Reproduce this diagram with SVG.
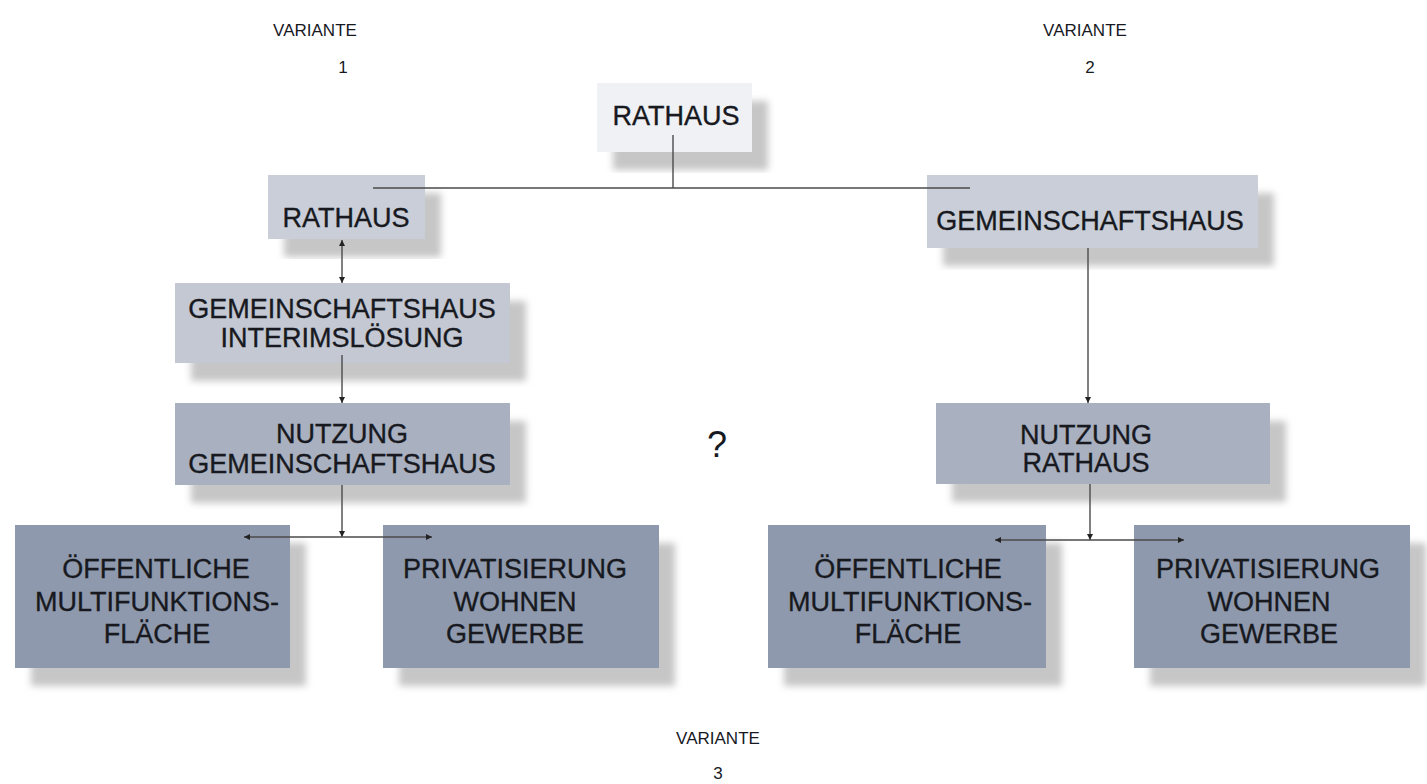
<svg xmlns="http://www.w3.org/2000/svg" width="1427" height="784" viewBox="0 0 1427 784">
<defs>
<style>
text{font-family:"Liberation Sans",Arial,sans-serif;fill:#17191f;text-anchor:middle}
.t{font-size:27px;stroke:#17191f;stroke-width:0.35}
.v{font-size:17px}
.q{font-size:36px}
.c{stroke:#4a4a4a;stroke-width:1.4;fill:none}
.l1{fill:#eff1f4}
.l2{fill:#c9ced8}
.l3{fill:#c3c8d3}
.l4{fill:#a9b0c0}
.l5{fill:#8f99ad}
</style>
<filter id="sh" x="-10%" y="-10%" width="130%" height="140%">
<feFlood flood-color="#c6c6c6" result="f"/>
<feComposite in="f" in2="SourceAlpha" operator="in" result="s"/>
<feOffset in="s" dx="16" dy="18" result="o"/>
<feGaussianBlur in="o" stdDeviation="3.5" result="b"/>
<feMerge><feMergeNode in="b"/><feMergeNode in="SourceGraphic"/></feMerge>
</filter>
<marker id="ah" viewBox="0 0 10 10" refX="10" refY="5" markerWidth="9" markerHeight="6" orient="auto-start-reverse" markerUnits="userSpaceOnUse">
<path d="M0,0 L10,5 L0,10 Z" fill="#222"/>
</marker>
</defs>

<g id="labels">
<text class="v" x="315" y="36">VARIANTE</text>
<text class="v" x="343" y="73">1</text>
<text class="v" x="1085" y="36">VARIANTE</text>
<text class="v" x="1090" y="73">2</text>
<text class="q" x="717" y="457">?</text>
<text class="v" x="718" y="744">VARIANTE</text>
<text class="v" x="718" y="779">3</text>
</g>

<g id="node-rathaus-top">
<rect class="l1" x="597" y="83" width="155" height="69" filter="url(#sh)"/>
<text class="t" x="676" y="125">RATHAUS</text>
</g>

<g id="node-rathaus-v1">
<rect class="l2" x="268" y="175" width="157" height="64" filter="url(#sh)"/>
<text class="t" x="346" y="227">RATHAUS</text>
</g>

<g id="node-gemeinschaftshaus-v2">
<rect class="l2" x="927" y="175" width="331" height="73" filter="url(#sh)"/>
<text class="t" x="1090" y="230">GEMEINSCHAFTSHAUS</text>
</g>

<g id="node-interim">
<rect class="l3" x="175" y="283" width="335" height="80" filter="url(#sh)"/>
<text class="t" x="342" y="318">GEMEINSCHAFTSHAUS</text>
<text class="t" x="342" y="347">INTERIMSLÖSUNG</text>
</g>

<g id="node-nutzung-gh">
<rect class="l4" x="175" y="403" width="335" height="82" filter="url(#sh)"/>
<text class="t" x="342" y="443">NUTZUNG</text>
<text class="t" x="342" y="473">GEMEINSCHAFTSHAUS</text>
</g>

<g id="node-nutzung-rh">
<rect class="l4" x="936" y="403" width="334" height="81" filter="url(#sh)"/>
<text class="t" x="1086" y="444">NUTZUNG</text>
<text class="t" x="1086" y="472">RATHAUS</text>
</g>

<g id="node-oeff-v1">
<rect class="l5" x="15" y="525" width="275" height="143" filter="url(#sh)"/>
<text class="t" x="156" y="578">ÖFFENTLICHE</text>
<text class="t" x="157" y="611">MULTIFUNKTIONS-</text>
<text class="t" x="157" y="643">FLÄCHE</text>
</g>

<g id="node-priv-v1">
<rect class="l5" x="383" y="525" width="276" height="143" filter="url(#sh)"/>
<text class="t" x="515" y="578">PRIVATISIERUNG</text>
<text class="t" x="515" y="611">WOHNEN</text>
<text class="t" x="515" y="643">GEWERBE</text>
</g>

<g id="node-oeff-v2">
<rect class="l5" x="768" y="525" width="278" height="143" filter="url(#sh)"/>
<text class="t" x="908" y="578">ÖFFENTLICHE</text>
<text class="t" x="910" y="611">MULTIFUNKTIONS-</text>
<text class="t" x="908" y="643">FLÄCHE</text>
</g>

<g id="node-priv-v2">
<rect class="l5" x="1134" y="525" width="276" height="143" filter="url(#sh)"/>
<text class="t" x="1268" y="578">PRIVATISIERUNG</text>
<text class="t" x="1269" y="611">WOHNEN</text>
<text class="t" x="1269" y="643">GEWERBE</text>
</g>

<g id="connectors">
<path class="c" d="M673,135 V188"/>
<path class="c" d="M373,188 H970"/>
<path class="c" d="M342,240 V283" marker-start="url(#ah)" marker-end="url(#ah)"/>
<path class="c" d="M342,355 V403" marker-end="url(#ah)"/>
<path class="c" d="M342,485 V537" marker-end="url(#ah)"/>
<path class="c" d="M342,537 H244" marker-end="url(#ah)"/>
<path class="c" d="M342,537 H432" marker-end="url(#ah)"/>
<path class="c" d="M1088,248 V403" marker-end="url(#ah)"/>
<path class="c" d="M1090,484 V540" marker-end="url(#ah)"/>
<path class="c" d="M1090,540 H995" marker-end="url(#ah)"/>
<path class="c" d="M1090,540 H1184" marker-end="url(#ah)"/>
</g>
</svg>
